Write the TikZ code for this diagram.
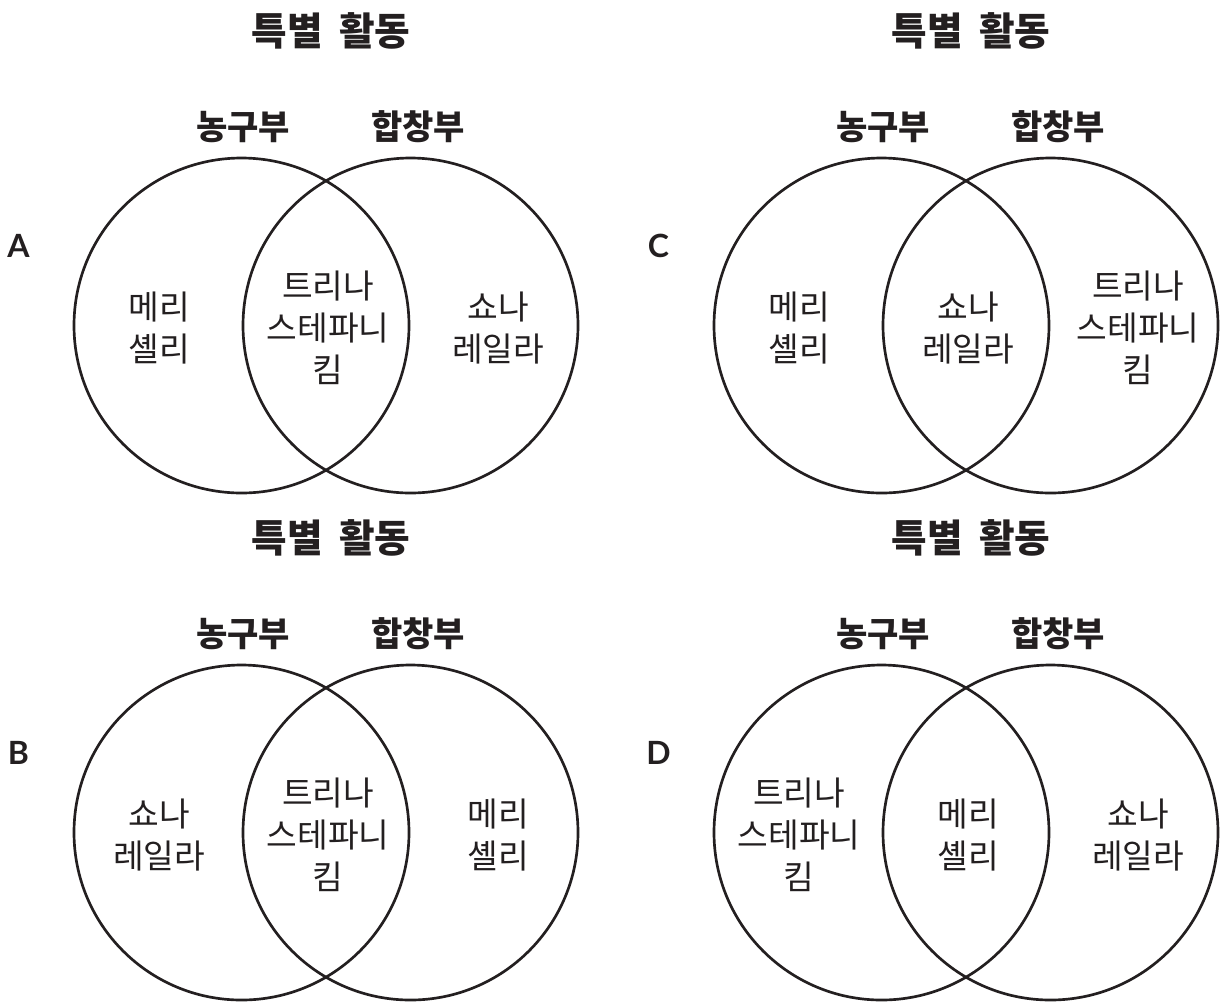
\documentclass[tikz,border=0pt]{standalone}
\usepackage{fontspec}
\usepackage{xcolor}
\usepackage{tikz}
\newfontfamily\hangul{Noto Sans CJK KR}
\newfontfamily\lettersf{Lato}
\definecolor{InkBlack}{RGB}{35,31,32}

\tikzset{
  venncircle/.style={draw=InkBlack,line width=2pt,circle,inner sep=0pt,minimum size=251.25pt},
  heading/.style={font=\hangul\bfseries\fontsize{29}{34}\selectfont,text=InkBlack},
  setname/.style={font=\hangul\bfseries\fontsize{25.5}{30}\selectfont,text=InkBlack},
  member/.style={font=\hangul\fontsize{25}{31.5}\selectfont,align=center,text=InkBlack},
  choice/.style={font=\lettersf\bfseries\fontsize{24}{28}\selectfont,text=InkBlack},
  pics/venn/.style n args={4}{code={
    \node[heading] (-title) at (331,31) {특별\hspace{0.2em} 활동};
    \node[setname] (-sport) at (243,127) {농구부};
    \node[setname] (-choir) at (418,127) {합창부};
    \node[choice] (-letter) at (18.5,246) {#1};
    \node[venncircle] (-left) at (241.5,325.5) {};
    \node[venncircle] (-right) at (410.5,325.5) {};
    \node[member] (-only1) at (159,328) {#2};
    \node[member] (-both) at (328,328) {#3};
    \node[member] (-only2) at (498,328) {#4};
  }}
}

\begin{document}
\begin{tikzpicture}[x=0.75pt,y=-0.75pt]
  \useasboundingbox (0,0) rectangle (1223,1001);

  \pic (A) at (0,0) {venn={A}{메리\\셸리}{트리나\\스테파니\\킴}{쇼나\\레일라}};
  \pic (C) at (640,0) {venn={C}{메리\\셸리}{쇼나\\레일라}{트리나\\스테파니\\킴}};
  \pic (B) at (0,507) {venn={B}{쇼나\\레일라}{트리나\\스테파니\\킴}{메리\\셸리}};
  \pic (D) at (640,507) {venn={D}{트리나\\스테파니\\킴}{메리\\셸리}{쇼나\\레일라}};
\end{tikzpicture}
\end{document}
